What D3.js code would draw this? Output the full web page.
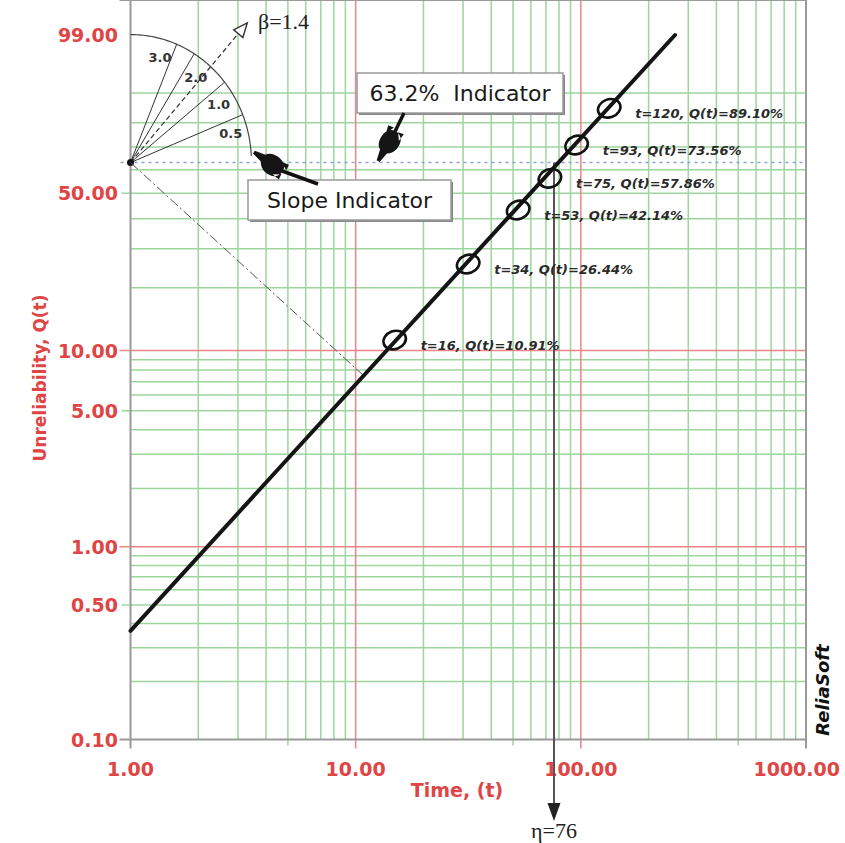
<!DOCTYPE html>
<html>
<head>
<meta charset="utf-8">
<script src="https://cdn.jsdelivr.net/npm/d3@7/dist/d3.min.js"></script>
<style>
body { margin: 0; background: #fff; }
</style>
</head>
<body>
<svg width="845" height="843"></svg>
<script>
// values
var timeTicks = [1, 10, 100, 1000];
var unrelTicks = [99, 50, 10, 5, 1, 0.5, 0.1];
var timeGrid = [2, 3, 4, 5, 6, 7, 8, 9, 20, 30, 40, 50, 60, 70, 80, 90, 200, 300, 400, 500, 600, 700, 800, 900];
var unrelGrid = [0.2, 0.3, 0.4, 0.5, 0.6, 0.7, 0.8, 0.9, 2, 3, 4, 5, 6, 7, 8, 9, 20, 30, 40, 50, 60, 70, 80, 90];
var pointTime = [14.9, 31.6, 52.7, 72.9, 95.8, 133.7];
var pointUnrel = [11.26, 25.68, 43.26, 56.32, 70.88, 85.26];
var pointLabels = ["t=16, Q(t)=10.91%", "t=34, Q(t)=26.44%", "t=53, Q(t)=42.14%",
                   "t=75, Q(t)=57.86%", "t=93, Q(t)=73.56%", "t=120, Q(t)=89.10%"];
var fitTime = [1, 262];
var fitUnrel = [0.367, 99];
var slopeValues = [3.0, 2.0, 1.0, 0.5];
var beta = 1.4, eta = 76;

var svg = d3.select("svg");
var red = "#e04545", green = "#9dd59d", gray = "#9a9a9a";

// Weibull paper: ln(-ln(1-Q))
function w(q) { return Math.log(-Math.log(1 - q / 100)); }

var x = d3.scaleLog().domain([1, 1000]).range([130.5, 806]);
var yw = d3.scaleLinear().domain([w(0.1), w(99)]).range([739.5, 35]);
function y(q) { return yw(w(q)); }

var fmt = d3.format(".2f");
var left = x(1), right = x(1000), top = y(99), bottom = y(0.1);

// grid
svg.append("g").selectAll("line")
    .data(timeGrid)
    .enter().append("line")
    .attr("x1", function(d) { return x(d); })
    .attr("x2", function(d) { return x(d); })
    .attr("y1", top)
    .attr("y2", function(d) { return String(d)[0] == "5" ? bottom + 6 : bottom; })
    .attr("stroke", green)
    .attr("stroke-width", 1.5);

svg.append("g").selectAll("line")
    .data(unrelGrid)
    .enter().append("line")
    .attr("y1", function(d) { return y(d); })
    .attr("y2", function(d) { return y(d); })
    .attr("x1", function(d) { return String(d).replace("0.", "")[0] == "5" ? left - 9 : left; })
    .attr("x2", right)
    .attr("stroke", green)
    .attr("stroke-width", 1.5);

svg.append("g").selectAll("line")
    .data([10, 100])
    .enter().append("line")
    .attr("x1", function(d) { return x(d); })
    .attr("x2", function(d) { return x(d); })
    .attr("y1", top)
    .attr("y2", bottom + 9)
    .attr("stroke", "#ec8585")
    .attr("stroke-width", 1.5);

svg.append("g").selectAll("line")
    .data([10, 1])
    .enter().append("line")
    .attr("y1", function(d) { return y(d); })
    .attr("y2", function(d) { return y(d); })
    .attr("x1", left - 11)
    .attr("x2", right)
    .attr("stroke", "#ec8585")
    .attr("stroke-width", 1.5);

// frame
var frame = svg.append("g").attr("stroke", gray).attr("stroke-width", 2);
frame.append("line").attr("x1", left - 11).attr("x2", right).attr("y1", top).attr("y2", top);
frame.append("line").attr("x1", left - 11).attr("x2", right).attr("y1", bottom).attr("y2", bottom);
frame.append("line").attr("x1", left).attr("x2", left).attr("y1", top).attr("y2", bottom + 9);
frame.append("line").attr("x1", right).attr("x2", right).attr("y1", top).attr("y2", bottom + 9);

// 63.2% line
svg.append("line")
    .attr("x1", left - 10).attr("x2", right)
    .attr("y1", y(63.2)).attr("y2", y(63.2))
    .attr("stroke", "#8ea2d6")
    .attr("stroke-width", 1.5)
    .attr("stroke-dasharray", "3,4");

// tick labels
svg.append("g").selectAll("text")
    .data(unrelTicks)
    .enter().append("text")
    .attr("x", 118)
    .attr("y", function(d) { return y(d) + 7; })
    .attr("text-anchor", "end")
    .style("font-family", "DejaVu Sans")
    .style("font-weight", "bold")
    .style("font-size", "19px")
    .style("fill", red)
    .text(function(d) { return fmt(d); });

svg.append("g").selectAll("text")
    .data(timeTicks)
    .enter().append("text")
    .attr("x", function(d) { return d == 1000 ? 840 : x(d); })
    .attr("y", 776)
    .attr("text-anchor", function(d) { return d == 1000 ? "end" : "middle"; })
    .style("font-family", "DejaVu Sans")
    .style("font-weight", "bold")
    .style("font-size", "19px")
    .style("fill", red)
    .text(function(d) { return fmt(d); });

svg.append("text")
    .attr("x", 457).attr("y", 797)
    .attr("text-anchor", "middle")
    .style("font-family", "DejaVu Sans")
    .style("font-weight", "bold")
    .style("font-size", "19px")
    .style("fill", red)
    .text("Time, (t)");

svg.append("text")
    .attr("transform", "translate(46,378) rotate(-90)")
    .attr("text-anchor", "middle")
    .style("font-family", "DejaVu Sans")
    .style("font-weight", "bold")
    .style("font-size", "17px")
    .style("fill", red)
    .text("Unreliability, Q(t)");

// slope indicator construction
var px = x(1), py = yw(0);
var ux = x(Math.E) - x(1);
function dir(b) {
    var dx = ux, dy = yw(0) - yw(b);
    var len = Math.sqrt(dx * dx + dy * dy);
    return [dx / len, dy / len];
}
var ra = 121, rb = 128;
function onArc(c, s) {
    var r = 1 / Math.sqrt(c * c / (ra * ra) + s * s / (rb * rb));
    return [px + r * c, py - r * s];
}

var arcPts = d3.range(90, 2.5, -1).map(function(a) {
    var t = a * Math.PI / 180;
    return [px + ra * Math.cos(t), py - rb * Math.sin(t)];
});
svg.append("path")
    .attr("d", d3.line()(arcPts))
    .attr("fill", "none")
    .attr("stroke", "#444")
    .attr("stroke-width", 1.2);

svg.append("g").selectAll("line")
    .data(slopeValues)
    .enter().append("line")
    .attr("x1", px).attr("y1", py)
    .attr("x2", function(d) { var u = dir(d); return onArc(u[0], u[1])[0]; })
    .attr("y2", function(d) { var u = dir(d); return onArc(u[0], u[1])[1]; })
    .attr("stroke", "#333")
    .attr("stroke-width", 1);

svg.append("g").selectAll("text")
    .data(slopeValues)
    .enter().append("text")
    .attr("transform", function(d, i) {
        var u = dir(d);
        var a = Math.atan2(u[1], u[0]) + (i == 0 ? 0.1 : -0.12);
        var p = onArc(Math.cos(a), Math.sin(a));
        var q = [px + (p[0] - px) * 0.86, py + (p[1] - py) * 0.86];
        return "translate(" + q[0] + "," + (q[1] + 5) + ")";
    })
    .attr("text-anchor", "middle")
    .style("font-family", "DejaVu Sans")
    .style("font-weight", "bold")
    .style("font-size", "13px")
    .style("fill", "#333")
    .text(function(d) { return d.toFixed(1); });

// beta arrow
var ub = dir(beta);
var tipLen = 182;
svg.append("line")
    .attr("x1", px).attr("y1", py)
    .attr("x2", px + ub[0] * (tipLen - 13)).attr("y2", py - ub[1] * (tipLen - 13))
    .attr("stroke", "#333")
    .attr("stroke-width", 1.2)
    .attr("stroke-dasharray", "5,3");
var tip = [px + ub[0] * tipLen, py - ub[1] * tipLen];
var base = [px + ub[0] * (tipLen - 14), py - ub[1] * (tipLen - 14)];
var nx = ub[1], ny = ub[0];
svg.append("path")
    .attr("d", "M" + tip + "L" + [base[0] + nx * 6, base[1] + ny * 6] + "L" + [base[0] - nx * 6, base[1] - ny * 6] + "Z")
    .attr("fill", "#fff")
    .attr("stroke", "#333")
    .attr("stroke-width", 1.4);
svg.append("text")
    .attr("x", 258).attr("y", 29)
    .style("font-family", "Liberation Serif")
    .style("font-size", "22px")
    .style("fill", "#222")
    .text("\u03b2=1.4");

// pivot dot
svg.append("circle").attr("cx", px).attr("cy", py).attr("r", 3.5).attr("fill", "#111");

// perpendicular from the pivot to the fitted line
var A = [x(fitTime[0]), y(fitUnrel[0])], B = [x(fitTime[1]), y(fitUnrel[1])];
var L = Math.hypot(B[0] - A[0], B[1] - A[1]);
var ex = (B[0] - A[0]) / L, ey = (B[1] - A[1]) / L;
var k = (px - A[0]) * ex + (py - A[1]) * ey;
svg.append("line")
    .attr("x1", px).attr("y1", py)
    .attr("x2", A[0] + k * ex).attr("y2", A[1] + k * ey)
    .attr("stroke", "#555")
    .attr("stroke-width", 1)
    .attr("stroke-dasharray", "10,3,2,3");

// eta arrow
svg.append("line")
    .attr("x1", x(eta)).attr("x2", x(eta))
    .attr("y1", yw(0)).attr("y2", 808)
    .attr("stroke", "#555")
    .attr("stroke-width", 2);
svg.append("path")
    .attr("d", "M" + (x(eta) - 6.5) + ",803L" + (x(eta) + 6.5) + ",803L" + x(eta) + ",821Z")
    .attr("fill", "#222");
svg.append("text")
    .attr("x", x(eta)).attr("y", 838)
    .attr("text-anchor", "middle")
    .style("font-family", "Liberation Serif")
    .style("font-size", "22px")
    .style("fill", "#222")
    .text("\u03b7=76");

// fitted line
svg.append("line")
    .attr("x1", A[0]).attr("y1", A[1])
    .attr("x2", B[0]).attr("y2", B[1])
    .attr("stroke", "#151515")
    .attr("stroke-width", 4)
    .attr("stroke-linecap", "round");

// data points
svg.append("g").selectAll("ellipse")
    .data(pointTime)
    .enter().append("ellipse")
    .attr("transform", function(d, i) { return "translate(" + x(d) + "," + y(pointUnrel[i]) + ") rotate(-20)"; })
    .attr("rx", 11.5)
    .attr("ry", 9)
    .attr("fill", "none")
    .attr("stroke", "#111")
    .attr("stroke-width", 2.6);

svg.append("g").selectAll("text")
    .data(pointLabels)
    .enter().append("text")
    .attr("x", function(d, i) { return x(pointTime[i]) + 26; })
    .attr("y", function(d, i) { return y(pointUnrel[i]) + 10; })
    .style("font-family", "DejaVu Sans")
    .style("font-weight", "bold")
    .style("font-style", "italic")
    .style("font-size", "13px")
    .style("fill", "#2a2a2a")
    .text(function(d) { return d; });

// callout boxes with pointing hands
function callout(bx, by, bw, bh, label, from, handTip, handAngle) {
    svg.append("rect").attr("x", bx + 2).attr("y", by + 2).attr("width", bw).attr("height", bh).attr("fill", "#888");
    svg.append("rect").attr("x", bx).attr("y", by).attr("width", bw).attr("height", bh)
        .attr("fill", "#fff").attr("stroke", "#9a9a9a").attr("stroke-width", 1.5);
    svg.append("text")
        .attr("x", bx + bw / 2).attr("y", by + bh / 2 + 8)
        .attr("text-anchor", "middle")
        .style("font-family", "DejaVu Sans")
        .style("font-size", "22px")
        .style("white-space", "pre")
        .style("fill", "#1a1a1a")
        .text(label);
    var a = handAngle * Math.PI / 180;
    var back = [handTip[0] + 34 * Math.cos(a), handTip[1] + 34 * Math.sin(a)];
    svg.append("line")
        .attr("x1", from[0]).attr("y1", from[1])
        .attr("x2", back[0]).attr("y2", back[1])
        .attr("stroke", "#111").attr("stroke-width", 3.5);
    svg.append("path")
        .attr("transform", "translate(" + handTip + ") rotate(" + handAngle + ")")
        .attr("d", "M0,-1.5L11,-4C14,-10 25,-11 31,-7C36,-3 36,5 30,9C24,12 15,11 11,4L0,1.8Z M28,-7L36,-9L37,-3Z M28,8L36,9L35,3Z")
        .attr("fill", "#151515");
}
callout(248, 180, 203, 40, "Slope Indicator", [318, 184], [254, 152], 34);
callout(357, 73, 206, 40, "63.2%  Indicator", [404, 113], [378, 161], -60);

// brand
svg.append("text")
    .attr("transform", "translate(829,690) rotate(-90)")
    .attr("text-anchor", "middle")
    .style("font-family", "DejaVu Sans")
    .style("font-weight", "bold")
    .style("font-style", "italic")
    .style("font-size", "18px")
    .style("fill", "#111")
    .text("ReliaSoft");
</script>
</body>
</html>
